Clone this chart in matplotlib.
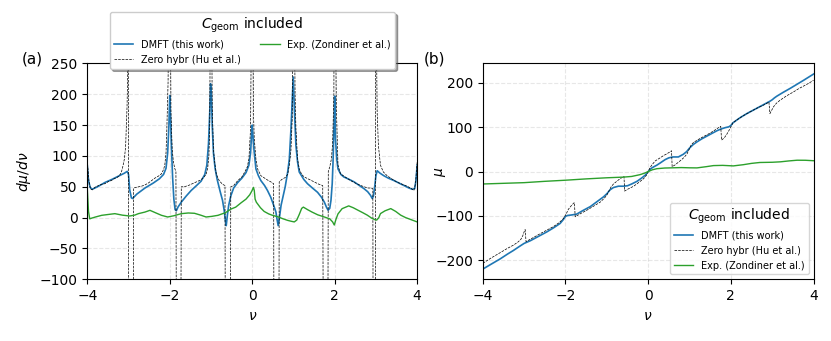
import matplotlib
matplotlib.use("Agg")
import matplotlib.pyplot as plt

# ---- panel (a): d(mu)/d(nu) ----
nu_dmft_d = [-4.00, -3.97, -3.93, -3.88, -3.75, -3.57, -3.40, -3.25, -3.10, -3.03, -3.00, -2.97,
             -2.93, -2.90, -2.80, -2.60, -2.40, -2.25, -2.15, -2.09, -2.05, -2.02, -2.00, -1.98,
             -1.96, -1.93, -1.90, -1.87, -1.84, -1.80, -1.72, -1.60, -1.48, -1.35, -1.24, -1.15,
             -1.10, -1.06, -1.03, -1.01, -0.99, -0.97, -0.94, -0.90, -0.85, -0.78, -0.72, -0.68,
             -0.65, -0.63, -0.60, -0.57, -0.52, -0.45, -0.35, -0.25, -0.15, -0.08, -0.04, -0.015,
             0.00, 0.015, 0.04, 0.09, 0.15, 0.21, 0.30, 0.37, 0.45, 0.52, 0.575, 0.60, 0.63, 0.66,
             0.70, 0.75, 0.80, 0.86, 0.90, 0.94, 0.97, 0.995, 1.02, 1.06, 1.10, 1.14, 1.25, 1.34,
             1.46, 1.585, 1.68, 1.75, 1.80, 1.84, 1.88, 1.91, 1.94, 1.96, 1.98, 2.00, 2.02, 2.05,
             2.08, 2.15, 2.22, 2.35, 2.47, 2.60, 2.71, 2.80, 2.87, 2.91, 2.94, 2.97, 3.00, 3.03,
             3.10, 3.19, 3.30, 3.44, 3.56, 3.68, 3.80, 3.88, 3.94, 3.97, 4.00]
dmft_d = [85, 60, 49, 46, 50, 57, 62, 67, 72, 75, 70, 45,
          32, 31, 38, 48, 56, 63, 70, 80, 105, 150, 198, 160,
          117, 65, 30, 13, 11, 17, 25, 35, 44, 52, 59, 70,
          85, 120, 170, 217, 200, 150, 105, 80, 62, 43, 28, 12,
          -5, -13, 5, 20, 35, 48, 57, 64, 73, 85, 105, 135,
          150, 135, 112, 79, 68, 60, 52, 44, 33, 20, 9, -2, -13, 0,
          20, 35, 50, 74, 95, 144, 190, 228, 180, 117, 90, 74, 62, 55,
          48, 41, 33, 25, 17, 12, 15, 28, 55, 90, 140, 197, 128, 95,
          79, 70, 66, 62, 58, 52, 47, 42, 36, 31, 35, 50, 68, 76,
          72, 68, 64, 60, 56, 52, 48, 46, 47, 60, 85]

nu_hybr_d = [-4.00, -3.96, -3.92, -3.87, -3.80, -3.72, -3.65, -3.57, -3.50, -3.42, -3.35, -3.28,
             -3.22, -3.17, -3.13, -3.10, -3.07, -3.055, -3.035, -3.02, -3.005, -2.995, -2.89, -2.875,
             -2.82, -2.75, -2.68, -2.60, -2.52, -2.44, -2.36, -2.28, -2.20, -2.15, -2.12, -2.09,
             -2.07, -2.04, -2.02, -1.99, -1.97, -1.94, -1.91, -1.88, -1.85, -1.835, -1.735, -1.72,
             -1.65, -1.55, -1.45, -1.35, -1.25, -1.18, -1.12, -1.08, -1.05, -1.03, -1.01, -0.99,
             -0.97, -0.94, -0.91, -0.87, -0.80, -0.72, -0.66, -0.65, -0.53, -0.52, -0.45, -0.35,
             -0.25, -0.18, -0.12, -0.08, -0.04, -0.01, 0.01, 0.03, 0.05, 0.09, 0.13, 0.21,
             0.30, 0.37, 0.45, 0.52, 0.53, 0.645, 0.655, 0.72, 0.80, 0.86, 0.90, 0.94,
             0.97, 0.99, 1.01, 1.04, 1.06, 1.10, 1.14, 1.20, 1.26, 1.38, 1.50, 1.62,
             1.71, 1.73, 1.83, 1.845, 1.88, 1.92, 1.95, 1.98, 1.99, 2.01, 2.04, 2.08,
             2.14, 2.25, 2.39, 2.50, 2.63, 2.72, 2.79, 2.87, 2.925, 2.935, 2.985, 2.995,
             3.02, 3.03, 3.06, 3.11, 3.18, 3.27, 3.40, 3.50, 3.60, 3.72, 3.84, 3.92,
             3.96, 4.00]
hybr_d = [93, 60, 46, 45, 50, 52, 54, 55, 58, 60, 63, 65,
          68, 74, 85, 95, 115, 144, 180, 230, 400, -300, -300, 48,
          49, 50, 51, 53, 56, 60, 64, 67, 71, 78, 85, 105,
          144, 220, 400, 400, 170, 110, 90, 80, 75, -300, -300, 50,
          50, 52, 55, 58, 61, 65, 70, 80, 100, 150, 400, 400,
          180, 110, 90, 70, 60, 54, 52, -300, -300, 50, 52, 60,
          66, 74, 82, 95, 144, 400, 400, 170, 128, 95, 79, 68,
          64, 61, 58, 55, -300, -300, 58, 62, 65, 70, 85, 110,
          160, 400, 400, 200, 144, 95, 79, 70, 66, 62, 58, 54,
          52, -300, -300, 75, 82, 95, 120, 200, 400, 400, 180, 85,
          71, 66, 60, 56, 52, 50, 48, 48, 47, -300, -300, 400,
          230, 171, 117, 85, 74, 68, 62, 58, 55, 52, 48, 44,
          55, 90]

nu_exp_d = [-4.00, -3.97, -3.94, -3.90, -3.80, -3.65, -3.50, -3.33, -3.15, -2.97, -2.85, -2.76,
            -2.60, -2.48, -2.35, -2.20, -2.05, -1.90, -1.72, -1.55, -1.40, -1.25, -1.12, -0.98,
            -0.83, -0.65, -0.51, -0.40, -0.27, -0.15, -0.06, -0.01, 0.03, 0.05, 0.07, 0.10,
            0.20, 0.29, 0.40, 0.50, 0.615, 0.75, 0.86, 0.95, 1.02, 1.08, 1.14, 1.20,
            1.24, 1.34, 1.45, 1.59, 1.75, 1.88, 1.95, 1.99, 2.03, 2.08, 2.18, 2.34,
            2.45, 2.55, 2.68, 2.79, 2.90, 2.98, 3.02, 3.07, 3.11, 3.22, 3.36, 3.48,
            3.60, 3.72, 3.84, 4.00]
exp_d = [48, 10, -2, -1, 1, 3.7, 5, 6.4, 4, 2.6, 4, 6.4,
         9, 11.8, 8, 3.7, 1, 3, 6.4, 7.5, 7, 4, 1, 2,
         3.7, 8, 14, 17, 24, 30, 37, 43, 49, 44, 30, 25,
         16, 10, 6, 3.5, 1.5, -2, -4.5, -6, -7, -4, 5, 15,
         17, 13, 9, 4.5, 1, -2, -7, -12, -3, 6, 14.5, 19,
         16, 12.5, 8, 4, -1, -3.5, -4, 0, 6.5, 11, 14.6, 10,
         4, 0, -3, -7]

# ---- panel (b): mu ----
nu_dmft = [-4.00, -3.80, -3.58, -3.40, -3.26, -3.10, -3.00, -2.95, -2.85, -2.61, -2.45, -2.29,
           -2.13, -2.05, -2.00, -1.95, -1.86, -1.73, -1.58, -1.40, -1.24, -1.08, -1.00, -0.92,
           -0.84, -0.72, -0.60, -0.50, -0.40, -0.27, -0.15, -0.07, 0.00, 0.07, 0.13, 0.21,
           0.30, 0.41, 0.50, 0.60, 0.73, 0.85, 0.93, 1.00, 1.09, 1.18, 1.30, 1.42,
           1.54, 1.66, 1.76, 1.86, 1.95, 2.00, 2.05, 2.14, 2.23, 2.39, 2.55, 2.71,
           2.87, 2.95, 3.00, 3.05, 3.11, 3.27, 3.44, 3.60, 3.76, 3.88, 4.00]
dmft_mu = [-220, -209, -197, -186, -178, -168, -162, -160, -156, -144, -136, -127,
           -117, -108, -101, -99, -98, -96, -88, -79, -68, -57, -50, -41,
           -36, -33, -33, -32, -28, -22, -14, -8, 0, 7, 10.5, 14.5,
           20, 27, 31, 33, 33, 39, 45, 53, 61, 67, 74, 80,
           86, 92, 96, 99, 101, 104, 110, 116, 122, 131, 139, 147,
           155, 159, 162, 166, 170, 179, 188, 197, 206, 213, 220]

nu_hybr = [-4.00, -3.80, -3.58, -3.40, -3.26, -3.15, -3.08, -3.03, -2.99, -2.975, -2.955, -2.80,
           -2.61, -2.45, -2.29, -2.15, -2.05, -1.98, -1.93, -1.86, -1.80, -1.785, -1.765, -1.62,
           -1.48, -1.32, -1.16, -1.05, -1.00, -0.95, -0.90, -0.84, -0.76, -0.68, -0.60, -0.585,
           -0.57, -0.50, -0.35, -0.22, -0.11, -0.04, 0.00, 0.04, 0.09, 0.17, 0.29, 0.37,
           0.45, 0.52, 0.565, 0.58, 0.65, 0.77, 0.87, 0.94, 1.00, 1.04, 1.10, 1.26,
           1.38, 1.50, 1.62, 1.70, 1.755, 1.775, 1.84, 1.90, 1.95, 2.00, 2.05, 2.15,
           2.30, 2.47, 2.63, 2.79, 2.87, 2.92, 2.945, 2.98, 3.03, 3.10, 3.19, 3.35,
           3.52, 3.64, 3.76, 3.88, 4.00]
hybr_mu = [-207, -195, -183, -173, -166, -159, -153, -144, -133, -131, -158, -150,
           -140, -132, -124, -115, -106, -95, -85, -77, -71, -70, -102, -94,
           -87, -78, -69, -59, -53, -44, -35, -28, -22, -16, -12, -11,
           -44, -40, -33, -24, -16, -8, 0, 8, 15, 24, 31, 36,
           40, 44, 47, 11, 15, 24, 32, 40, 52, 60, 66, 75,
           81, 87, 94, 99, 102, 71, 76, 84, 92, 101, 110, 117,
           126, 135, 143, 150, 154, 157, 131, 137, 146, 154, 161, 171,
           180, 187, 193, 199, 206]

nu_exp = [-4.00, -3.50, -3.00, -2.50, -2.00, -1.50, -1.00, -0.60, -0.40, -0.20, -0.10, 0.00,
          0.10, 0.21, 0.40, 0.60, 0.80, 1.00, 1.18, 1.40, 1.58, 1.80, 2.06, 2.30,
          2.50, 2.70, 3.00, 3.20, 3.40, 3.60, 3.80, 4.00]
exp_mu = [-28, -26.5, -25, -22, -19.5, -16.5, -14, -12.5, -11, -7, -4, 0,
          4, 6.5, 8, 8.5, 9, 8.5, 8.3, 11, 13.5, 14, 12.8, 15.5,
          18.5, 20.5, 21, 22, 24, 25.6, 25.5, 24.5]

legend_title = r"$C_{\rm geom}$ included"
labels = ["DMFT (this work)", "Zero hybr (Hu et al.)", "Exp. (Zondiner et al.)"]

fig = plt.figure(figsize=(8.31, 3.41), dpi=100)
ax1 = fig.add_axes([0.105, 0.181, 0.397, 0.633])
ax2 = fig.add_axes([0.581, 0.181, 0.398, 0.633])

# left panel
ax1.plot(nu_dmft_d, dmft_d, color="tab:blue", lw=1.2, label=labels[0])
ax1.plot(nu_hybr_d, hybr_d, color="k", ls="--", lw=0.5, label=labels[1])
ax1.plot(nu_exp_d, exp_d, color="tab:green", lw=1.0, label=labels[2])
ax1.set_xlim(-4, 4)
ax1.set_ylim(-100, 250)
ax1.set_xlabel(r"$\nu$")
ax1.set_ylabel(r"$d\mu/d\nu$")
ax1.yaxis.set_label_coords(-0.165, 0.5)
ax1.grid(True, ls="--", alpha=0.3)
ax1.text(-0.2, 1.02, "(a)", transform=ax1.transAxes, fontsize=11, va="center")
ax1.legend(title=legend_title, ncol=2, loc="upper center", bbox_to_anchor=(0.5, 1.262),
           fontsize=7, title_fontsize=10, shadow=True, framealpha=1)

# right panel
ax2.plot(nu_dmft, dmft_mu, color="tab:blue", lw=1.2, label=labels[0])
ax2.plot(nu_hybr, hybr_mu, color="k", ls="--", lw=0.5, label=labels[1])
ax2.plot(nu_exp, exp_mu, color="tab:green", lw=1.0, label=labels[2])
ax2.set_xlim(-4, 4)
ax2.set_ylim(-243, 244)
ax2.set_xlabel(r"$\nu$")
ax2.set_ylabel(r"$\mu$")
ax2.yaxis.set_label_coords(-0.105, 0.5)
ax2.grid(True, ls="--", alpha=0.3)
ax2.text(-0.178, 1.02, "(b)", transform=ax2.transAxes, fontsize=11, va="center")
ax2.legend(title=legend_title, loc="lower right", fontsize=7, title_fontsize=10)

fig.savefig("out.png", dpi=100)
